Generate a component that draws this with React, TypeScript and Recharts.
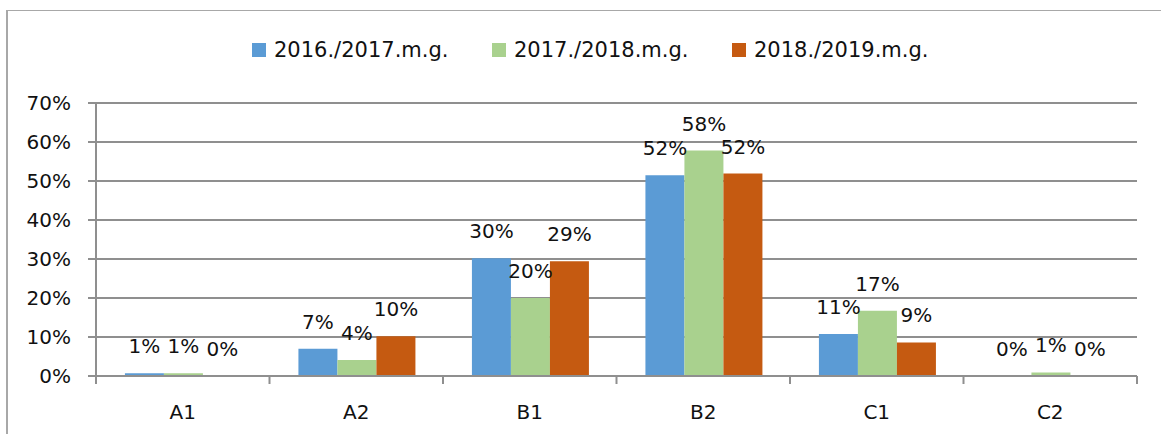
import React from 'react';
import { BarChart, Bar, XAxis, YAxis, CartesianGrid, LabelList } from 'recharts';

const categories = ['A1', 'A2', 'B1', 'B2', 'C1', 'C2'];
const series2016 = [0.7, 7.0, 30.2, 51.5, 10.8, 0];
const series2017 = [0.7, 4.1, 20.0, 57.8, 16.7, 0.9];
const series2018 = [0, 10.2, 29.4, 51.9, 8.6, 0];
const seriesNames = ['2016./2017.m.g.', '2017./2018.m.g.', '2018./2019.m.g.'];
const seriesColors = ['#5B9BD5', '#A9D18E', '#C55A11'];
const seriesKeys = ['s0', 's1', 's2'];
const yTicks = [0, 10, 20, 30, 40, 50, 60, 70];

const data = categories.map((c, i) => ({
  cat: c,
  s0: series2016[i],
  s1: series2017[i],
  s2: series2018[i],
}));

const FONT = 'DejaVu Sans, sans-serif';
const GRID = '#8f8f8f';

const XTick = (props: any) => {
  const { x, y, payload, index, visibleTicksCount } = props;
  const half = payload && typeof payload.offset === 'number' && payload.offset > 0 ? payload.offset : 86.7;
  const count = visibleTicksCount ?? categories.length;
  return (
    <g>
      <line x1={x - half} x2={x - half} y1={y} y2={y + 8} stroke={GRID} strokeWidth={2} />
      {index === count - 1 && (
        <line x1={x + half} x2={x + half} y1={y} y2={y + 8} stroke={GRID} strokeWidth={2} />
      )}
      <text x={x} y={y + 43} textAnchor="middle" fontSize={20} fontFamily={FONT} fill="#111">
        {payload.value}
      </text>
    </g>
  );
};

const fmt = (v: any) => `${Math.round(Number(v) || 0)}%`;

export default function App() {
  return (
    <div style={{ position: 'absolute', left: 0, top: 0, width: 1161, height: 434, background: '#fff', overflow: 'hidden' }}>
      <div
        style={{
          position: 'absolute',
          left: 6,
          top: 10,
          width: 1400,
          height: 600,
          borderTop: '1px solid #a8a8a8',
          borderLeft: '2px solid #a8a8a8',
        }}
      />
      <div
        style={{
          position: 'absolute',
          left: 252,
          top: 40,
          height: 20,
          display: 'flex',
          alignItems: 'center',
          fontFamily: FONT,
          fontSize: 21,
          color: '#111',
        }}
      >
        {seriesNames.map((n, i) => (
          <div key={n} style={{ width: 240, display: 'flex', alignItems: 'center' }}>
            <span style={{ display: 'inline-block', width: 14, height: 14, background: seriesColors[i], marginRight: 8 }} />
            <span style={{ whiteSpace: 'nowrap' }}>{n}</span>
          </div>
        ))}
      </div>
      <div style={{ position: 'absolute', left: 0, top: 0 }}>
        <BarChart
          width={1161}
          height={434}
          data={data}
          margin={{ top: 103, right: 24, bottom: 0, left: 36 }}
          barCategoryGap="16.67%"
          barGap={0}
          style={{ fontFamily: FONT }}
        >
          <CartesianGrid vertical={false} stroke={GRID} strokeWidth={2} />
          <XAxis
            dataKey="cat"
            height={58}
            tickSize={0}
            tickMargin={0}
            tickLine={false}
            axisLine={{ stroke: GRID, strokeWidth: 2 }}
            tick={<XTick />}
            interval={0}
          />
          <YAxis
            width={60}
            domain={[0, 70]}
            ticks={yTicks}
            tickFormatter={(v: number) => `${v}%`}
            tickSize={8}
            tickMargin={17}
            tickLine={{ stroke: GRID, strokeWidth: 2 }}
            axisLine={{ stroke: GRID, strokeWidth: 2 }}
            tick={{ fill: '#111', fontSize: 20, fontFamily: FONT }}
            allowDataOverflow
          />
          {seriesKeys.map((k, i) => (
            <Bar
              key={k}
              dataKey={k}
              name={seriesNames[i]}
              fill={seriesColors[i]}
              minPointSize={0.01}
              isAnimationActive={false}
            >
              <LabelList dataKey={k} position="top" offset={20} formatter={fmt} fill="#111" fontSize={20} fontFamily={FONT} />
            </Bar>
          ))}
        </BarChart>
      </div>
    </div>
  );
}
